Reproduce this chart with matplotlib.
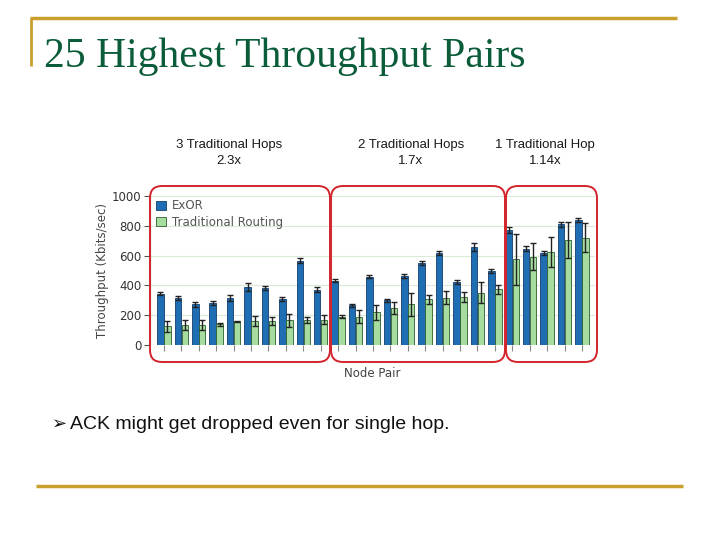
import numpy as np
import matplotlib.pyplot as plt
from matplotlib.patches import FancyBboxPatch

# values (Kbits/sec)
exor = [345, 315, 272, 284, 313, 388, 382, 310, 567, 372,
        432, 268, 458, 300, 464, 551, 618, 424, 658, 498,
        770, 647, 618, 810, 837]
exor_err = [12, 15, 15, 14, 20, 25, 15, 12, 15, 18,
            12, 10, 10, 12, 12, 15, 15, 12, 25, 12,
            20, 15, 15, 15, 12]
trad = [125, 135, 135, 138, 158, 162, 162, 165, 165, 168,
        188, 190, 219, 250, 272, 308, 317, 324, 350, 373,
        576, 592, 625, 703, 721]
trad_err = [35, 35, 35, 10, 5, 35, 25, 45, 20, 30,
            10, 45, 50, 40, 80, 30, 45, 35, 70, 30,
            170, 90, 100, 120, 100]
group_titles = ['3 Traditional Hops\n2.3x', '2 Traditional Hops\n1.7x', '1 Traditional Hop\n1.14x']
yticks = [0, 200, 400, 600, 800, 1000]

gold = '#c9a02c'
blue = '#1f6db3'
green = '#a6dca0'

fig = plt.figure(figsize=(7.2, 5.4), dpi=100)

# chart
ax = fig.add_axes([150/720, 1 - 345/540, 445/720, 149/540])
x = np.arange(len(exor))
w = 0.37
ax.bar(x - 0.2, exor, w, color=blue, edgecolor='#123e6e', lw=0.6, label='ExOR', zorder=2)
ax.bar(x + 0.2, trad, w, color=green, edgecolor='#2e5e2e', lw=0.6, label='Traditional Routing', zorder=2)
ax.errorbar(x - 0.2, exor, yerr=exor_err, fmt='none', ecolor='#222222', elinewidth=1, capsize=2.5, zorder=3)
ax.errorbar(x + 0.2, trad, yerr=trad_err, fmt='none', ecolor='#222222', elinewidth=1, capsize=2.5, zorder=3)
ax.set_xlim(-0.8, 24.75)
ax.set_ylim(0, 1000)
ax.set_yticks(yticks)
ax.set_xticks(x)
ax.set_xticklabels([])
ax.tick_params(axis='x', length=4, color='#888888')
ax.tick_params(axis='y', labelsize=8.5, labelcolor='#333333', length=4, pad=2, color='#555555')
ax.yaxis.grid(True, color='#d9ead6', lw=0.8)
ax.set_axisbelow(True)
for s in ['top', 'right', 'bottom']:
    ax.spines[s].set_visible(False)
ax.spines['left'].set_color('#555555')
ax.set_ylabel('Throughput (Kbits/sec)', fontsize=8.5, color='#444444', labelpad=2)
ax.set_xlabel('Node Pair', fontsize=8.5, color='#444444', labelpad=8)
ax.legend(loc='upper left', bbox_to_anchor=(-0.01, 1.05), frameon=False, fontsize=8.5,
          handlelength=0.8, handleheight=0.8, handletextpad=0.5, labelspacing=0.3,
          labelcolor='#555555')

# slide decoration in pixel coordinates
bg = fig.add_axes([0, 0, 1, 1], zorder=5)
bg.set_xlim(0, 720)
bg.set_ylim(540, 0)
bg.axis('off')
bg.patch.set_alpha(0)

bg.plot([30, 677], [18, 18], color=gold, lw=2.5, solid_capstyle='butt')
bg.plot([31, 31], [18, 66], color=gold, lw=2, solid_capstyle='butt')
bg.plot([36, 683], [486, 486], color=gold, lw=2.5, solid_capstyle='butt')
bg.text(44, 67, '25 Highest Throughput Pairs', fontsize=30, family='Liberation Serif',
        color='#0b5c38', va='baseline')
bg.text(52, 429, '\u27a2', fontsize=13, family='DejaVu Sans', color='#111111', va='baseline')
bg.text(70, 429, 'ACK might get dropped even for single hop.', fontsize=14,
        family='Liberation Sans', color='#111111', va='baseline')

# group boxes and headers
boxes = [(150, 330), (331, 505), (506, 597)]
for x0, x1 in boxes:
    bg.add_patch(FancyBboxPatch((x0 + 12, 198), x1 - x0 - 24, 152,
                                boxstyle='round,pad=12', fill=False,
                                ec='#d4242c', lw=1.4))
hx = [229, 411, 545]
for xx, t in zip(hx, group_titles):
    bg.text(xx, 153, t, ha='center', va='center', fontsize=9.5, color='#1a1a1a',
            linespacing=1.45, family='Liberation Sans')

fig.savefig('out.png', dpi=100)
